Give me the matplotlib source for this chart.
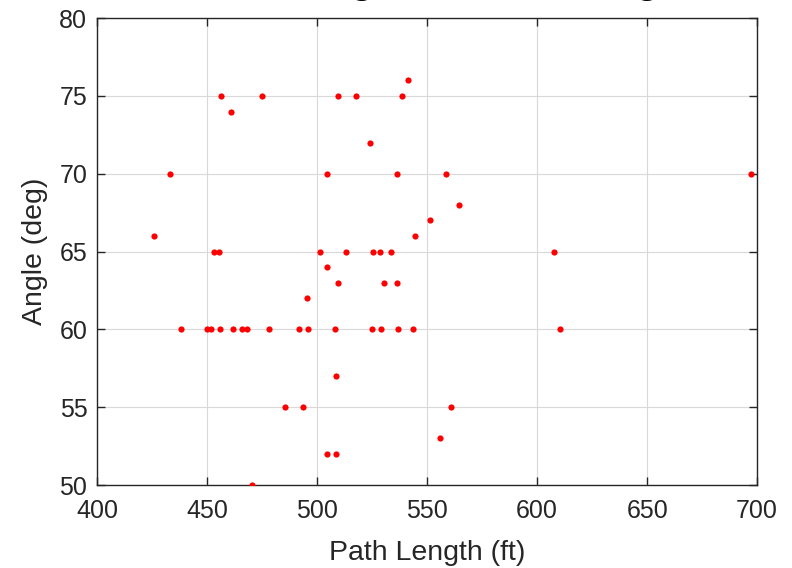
import numpy as np
import matplotlib
matplotlib.use('Agg')
import matplotlib.pyplot as plt

plt.rcParams['font.family'] = ['Liberation Sans', 'DejaVu Sans']

# 飛距離 (ft) と角度 (deg)
path_length = [426, 433, 438, 450, 452, 456, 462, 466, 468, 478, 492, 496, 508, 525, 529, 537, 543.5, 610.5,
               453, 455.5, 501.5, 513, 525.5, 528.5, 533.5, 607.5,
               456.5, 475, 509.5, 517.5, 538.5, 541.5, 461, 524, 504.5, 536.5, 558.5, 697,
               564.5, 551.5, 544.5, 504.5, 509.5, 530.5, 536.5, 495.5, 508.5,
               485.5, 493.5, 561, 556, 504.5, 508.5, 470.5]
angle = [66, 70, 60, 60, 60, 60, 60, 60, 60, 60, 60, 60, 60, 60, 60, 60, 60, 60,
         65, 65, 65, 65, 65, 65, 65, 65,
         75, 75, 75, 75, 75, 76, 74, 72, 70, 70, 70, 70,
         68, 67, 66, 64, 63, 63, 63, 62, 57,
         55, 55, 55, 53, 52, 52, 50]

fig = plt.figure(figsize=(7.92, 5.68), dpi=100)
ax = fig.add_axes([0.1225, 0.146, 0.8335, 0.822])

ax.scatter(path_length, angle, s=20, color='red', zorder=3, linewidths=0)

ax.set_xlim(400, 700)
ax.set_ylim(50, 80)
ax.set_xticks(np.arange(400, 701, 50))
ax.set_yticks(np.arange(50, 81, 5))
ax.grid(True, color='#d9d9d9', linewidth=0.8)
ax.set_axisbelow(True)

dark = '#262626'
for s in ax.spines.values():
    s.set_color(dark)
    s.set_linewidth(1.0)
ax.tick_params(direction='in', top=True, right=True, length=6, width=1.0,
               colors=dark, labelsize=18)
ax.tick_params(axis='x', pad=10)
ax.tick_params(axis='y', pad=7)
ax.set_xlabel('Path Length (ft)', fontsize=20.5, color=dark, labelpad=12)
ax.set_ylabel('Angle (deg)', fontsize=20.5, color=dark, labelpad=8)

# 上がはみ出したタイトル
fig.text(0.535, 1.0115, 'Launch Angle vs Path Length', fontsize=28, fontweight='bold',
         ha='center', va='baseline', color='black')

plt.savefig('out.png', dpi=100)
